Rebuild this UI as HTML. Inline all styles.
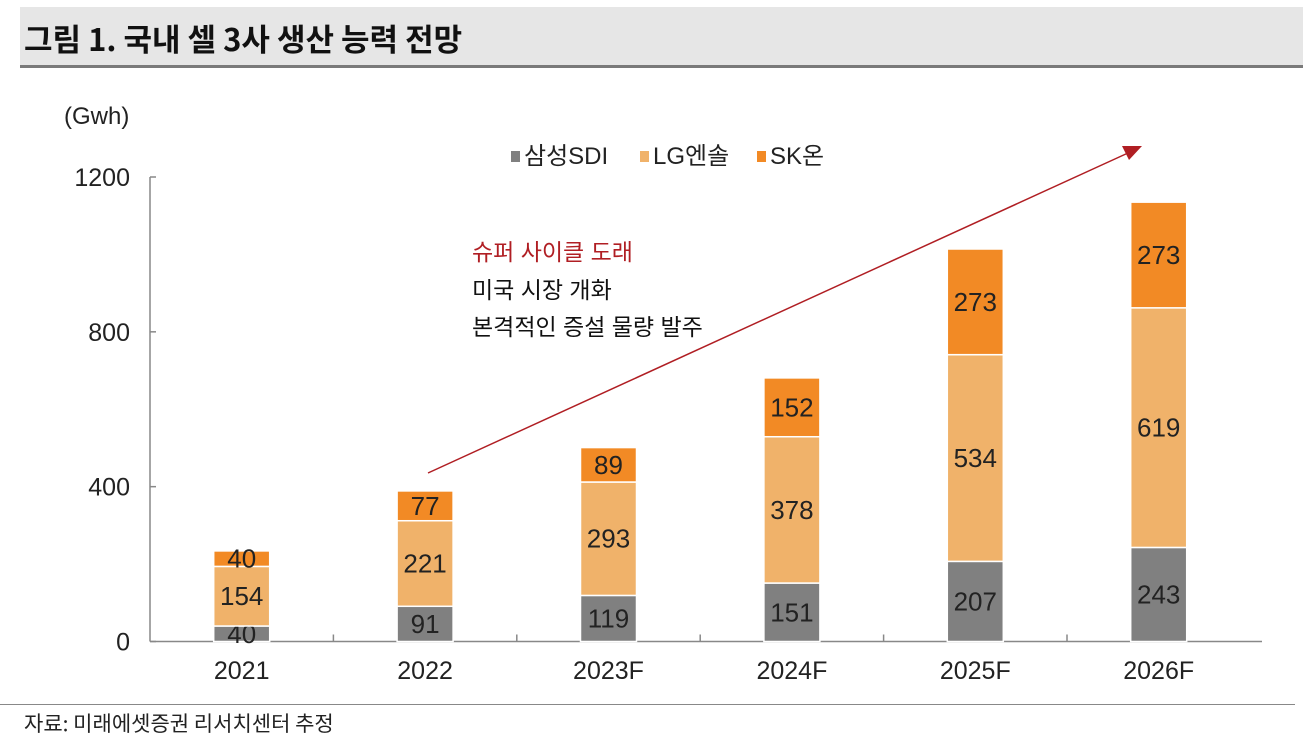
<!DOCTYPE html>
<html><head><meta charset="utf-8"><style>
body{margin:0;background:#fff;width:1303px;height:744px;overflow:hidden;font-family:"Liberation Sans Narrow","Liberation Sans","Noto Sans CJK KR",sans-serif}
svg text{font-family:"Liberation Sans Narrow","Liberation Sans","Noto Sans CJK KR",sans-serif}
</style></head><body>
<svg id="c" width="1303" height="744">
<rect x="20" y="7" width="1283" height="59" fill="#e6e6e6"/>
<rect x="20" y="65" width="1283" height="3" fill="#7a7a7a"/>
<text x="24" y="51" font-size="31" font-weight="bold" fill="#111" style="font-family:'Noto Sans CJK KR',sans-serif">그림 1. 국내 셀 3사 생산 능력 전망</text>
<text x="64" y="124" font-size="24" fill="#222">(Gwh)</text>
<g id="legend">
<rect x="511" y="151" width="9" height="11" fill="#808080"/>
<text x="524" y="164" font-size="24" fill="#222">삼성SDI</text>
<rect x="640" y="151" width="9" height="11" fill="#f0b26a"/>
<text x="653" y="164" font-size="24" fill="#222">LG엔솔</text>
<rect x="757" y="151" width="9" height="11" fill="#f28a25"/>
<text x="770" y="164" font-size="24" fill="#222">SK온</text>
</g>
<text x="472" y="260" font-size="23" fill="#b01e23">슈퍼 사이클 도래</text>
<text x="472" y="298" font-size="23" fill="#111">미국 시장 개화</text>
<text x="472" y="335" font-size="23" fill="#111">본격적인 증설 물량 발주</text>
<line x1="428" y1="473" x2="1128" y2="153" stroke="#b01e23" stroke-width="1.5"/>
<polygon points="1142,146 1122,146 1129,160" fill="#b01e23"/>
<rect x="0" y="704" width="1295" height="1" fill="#888"/>
<text x="24" y="731" font-size="21" fill="#222" style="font-family:'Noto Sans CJK KR',sans-serif">자료: 미래에셋증권 리서치센터 추정</text>
<g id="plot"></g>
</svg>
<script>
const categories=["2021","2022","2023F","2024F","2025F","2026F"];
const samsung=[40,91,119,151,207,243];
const lg=[154,221,293,378,534,619];
const sk=[40,77,89,152,273,273];
const yTicks=[0,400,800,1200];
const y0=641.5,y1=177,x0=150,x1=1262,bw=56;
const Y=v=>y0-(v/1200)*(y0-y1);
const step=183.4;
const X=i=>x0+step*(i+0.5);
const g=document.getElementById('plot');const NS='http://www.w3.org/2000/svg';
function mk(t,a){const e=document.createElementNS(NS,t);for(const k in a)e.setAttribute(k,a[k]);g.appendChild(e);return e;}
let e=mk('line',{x1:x0,y1:y1,x2:x0,y2:y0,stroke:'#888','stroke-width':1.5});


e=mk('line',{x1:x0,y1:y0,x2:x1,y2:y0,stroke:'#888','stroke-width':1.5});


yTicks.forEach(t=>{
 let l=mk('line',{x1:x0,y1:Y(t),x2:x0+6,y2:Y(t),stroke:'#888','stroke-width':1.5});
 
 
 let tx=mk('text',{x:x0-20,y:Y(t)+9,'font-size':25,'text-anchor':'end',fill:'#222'});tx.textContent=t;
 
 
});
for(let i=1;i<categories.length;i++){
 let l=mk('line',{x1:x0+step*i,y1:y0,x2:x0+step*i,y2:y0-7,stroke:'#888','stroke-width':1.5});
 
 
}
const series=[[samsung,'#808080','samsung'],[lg,'#f0b26a','lg'],[sk,'#f28a25','sk']];
categories.forEach((c,i)=>{
 let base=0;
 series.forEach(([arr,col,nm])=>{
  const v=arr[i];const top=base+v;
  let r=mk('rect',{x:X(i)-bw/2,y:Y(top),width:bw,height:Y(base)-Y(top),fill:col,stroke:'#fff','stroke-width':1.5});
  
  
  let t=mk('text',{x:X(i),y:(Y(top)+Y(base))/2+9,'font-size':26,'text-anchor':'middle',fill:'#222'});t.textContent=v;
  
  
  base=top;
 });
 let t=mk('text',{x:X(i),y:679,'font-size':25,'text-anchor':'middle',fill:'#222'});t.textContent=c;
 
 
});
</script>
</body></html>
